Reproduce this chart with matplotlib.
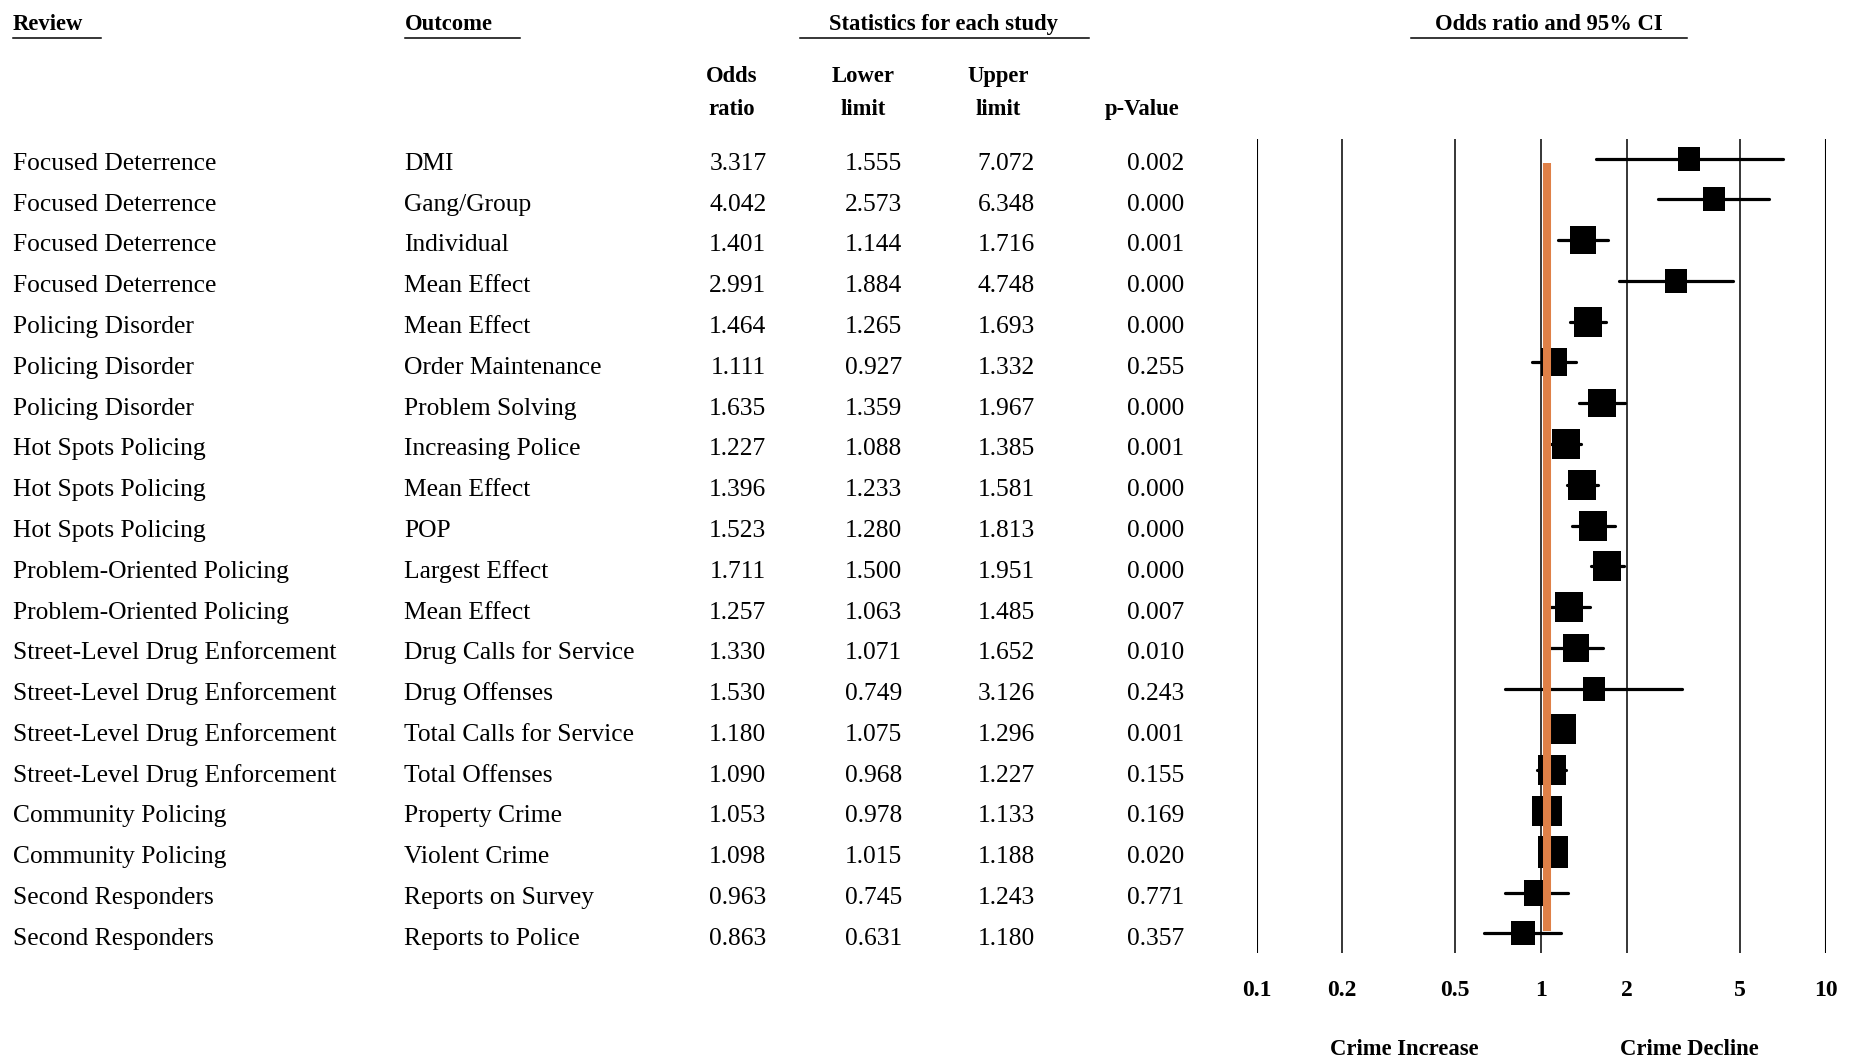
import numpy as np
import matplotlib.pyplot as plt
from matplotlib import transforms
from matplotlib.ticker import NullLocator

plt.rcParams['font.family'] = ['Liberation Serif', 'DejaVu Serif']

review = ["Focused Deterrence", "Focused Deterrence", "Focused Deterrence", "Focused Deterrence",
          "Policing Disorder", "Policing Disorder", "Policing Disorder",
          "Hot Spots Policing", "Hot Spots Policing", "Hot Spots Policing",
          "Problem-Oriented Policing", "Problem-Oriented Policing",
          "Street-Level Drug Enforcement", "Street-Level Drug Enforcement",
          "Street-Level Drug Enforcement", "Street-Level Drug Enforcement",
          "Community Policing", "Community Policing",
          "Second Responders", "Second Responders"]
outcome = ["DMI", "Gang/Group", "Individual", "Mean Effect", "Mean Effect", "Order Maintenance",
           "Problem Solving", "Increasing Police", "Mean Effect", "POP", "Largest Effect",
           "Mean Effect", "Drug Calls for Service", "Drug Offenses", "Total Calls for Service",
           "Total Offenses", "Property Crime", "Violent Crime", "Reports on Survey",
           "Reports to Police"]
odds = [3.317, 4.042, 1.401, 2.991, 1.464, 1.111, 1.635, 1.227, 1.396, 1.523,
        1.711, 1.257, 1.330, 1.530, 1.180, 1.090, 1.053, 1.098, 0.963, 0.863]
lower = [1.555, 2.573, 1.144, 1.884, 1.265, 0.927, 1.359, 1.088, 1.233, 1.280,
         1.500, 1.063, 1.071, 0.749, 1.075, 0.968, 0.978, 1.015, 0.745, 0.631]
upper = [7.072, 6.348, 1.716, 4.748, 1.693, 1.332, 1.967, 1.385, 1.581, 1.813,
         1.951, 1.485, 1.652, 3.126, 1.296, 1.227, 1.133, 1.188, 1.243, 1.180]
pval = [0.002, 0.000, 0.001, 0.000, 0.000, 0.255, 0.000, 0.001, 0.000, 0.000,
        0.000, 0.007, 0.010, 0.243, 0.001, 0.155, 0.169, 0.020, 0.771, 0.357]
# relative box size (study weight)
rel_weight = [0.77, 0.78, 0.89, 0.78, 0.95, 0.89, 0.92, 0.98, 0.97, 0.93,
              0.96, 0.93, 0.87, 0.77, 0.99, 0.97, 0.99, 1.00, 0.84, 0.79]
overall = 1.05

ticks = [0.1, 0.2, 0.5, 1, 2, 5, 10]
tick_labels = ['0.1', '0.2', '0.5', '1', '2', '5', '10']

W, H = 1851, 1059
fig = plt.figure(figsize=(W / 100, H / 100), dpi=100)

# full-figure axes in pixel units for the table part
base = fig.add_axes([0, 0, 1, 1])
base.set_xlim(0, W)
base.set_ylim(H, 0)
base.axis('off')

ax = fig.add_axes([1256.5 / W, 1 - 952.7 / H, (1825.5 - 1256.5) / W, (952.7 - 139.3) / H])
ax.set_xscale('log')
ax.set_xlim(0.1, 10)
ax.set_ylim(19.475, -0.471)
for s in ax.spines.values():
    s.set_visible(False)
ax.set_yticks([])
ax.set_xticks(ticks)
ax.set_xticklabels(tick_labels, fontsize=17, fontweight='bold')
ax.xaxis.set_minor_locator(NullLocator())
ax.tick_params(axis='x', length=0, pad=20)

for t in ticks:
    ax.axvline(t, color='black', lw=1.5 if t in (0.1, 10) else 1.1, zorder=1)

rows = np.arange(len(odds))
for i in rows:
    ax.plot([lower[i], upper[i]], [i, i], color='black', lw=2.3, solid_capstyle='round', zorder=3)

box = [(-0.47, -0.5), (0.47, -0.5), (0.47, 0.5), (-0.47, 0.5), (-0.47, -0.5)]
max_box = 22.5
for i in rows:
    ax.plot(odds[i], i, marker=box, ms=rel_weight[i] * max_box, mew=0, color='black', zorder=4)

ax.plot([overall, overall], [0.11, 18.94], color='#DF8047', lw=5.8, solid_capstyle='butt', zorder=5)

# table text
trans = transforms.blended_transform_factory(base.transData, ax.transData)
row_fs = 18.4
for i in rows:
    y = i + 0.28
    base.text(13, y, review[i], transform=trans, fontsize=row_fs, va='baseline')
    base.text(404, y, outcome[i], transform=trans, fontsize=row_fs, va='baseline')
    base.text(766.5, y, f'{odds[i]:.3f}', transform=trans, fontsize=row_fs, va='baseline', ha='right')
    base.text(902, y, f'{lower[i]:.3f}', transform=trans, fontsize=row_fs, va='baseline', ha='right')
    base.text(1035, y, f'{upper[i]:.3f}', transform=trans, fontsize=row_fs, va='baseline', ha='right')
    base.text(1184, y, f'{pval[i]:.3f}', transform=trans, fontsize=row_fs, va='baseline', ha='right')

hfs = 16.3
base.text(13, 30, 'Review', fontsize=hfs, fontweight='bold', va='baseline')
base.text(405, 30, 'Outcome', fontsize=hfs, fontweight='bold', va='baseline')
base.text(943, 30, 'Statistics for each study', fontsize=hfs, fontweight='bold', va='baseline', ha='center')
base.text(1549, 30, 'Odds ratio and 95% CI', fontsize=hfs, fontweight='bold', va='baseline', ha='center')
for x0, x1 in [(13, 101), (405, 520), (800, 1089), (1411, 1687)]:
    base.plot([x0, x1], [37.5, 37.5], color='black', lw=1.1)

for x, top, bottom in [(732, 'Odds', 'ratio'), (863, 'Lower', 'limit'), (998, 'Upper', 'limit'), (1142, '', 'p-Value')]:
    if top:
        base.text(x, 82, top, fontsize=hfs, fontweight='bold', va='baseline', ha='center')
    base.text(x, 115, bottom, fontsize=hfs, fontweight='bold', va='baseline', ha='center')

base.text(1404, 1055, 'Crime Increase', fontsize=hfs, fontweight='bold', va='baseline', ha='center')
base.text(1689, 1055, 'Crime Decline', fontsize=hfs, fontweight='bold', va='baseline', ha='center')

fig.savefig('out.png', dpi=100)
